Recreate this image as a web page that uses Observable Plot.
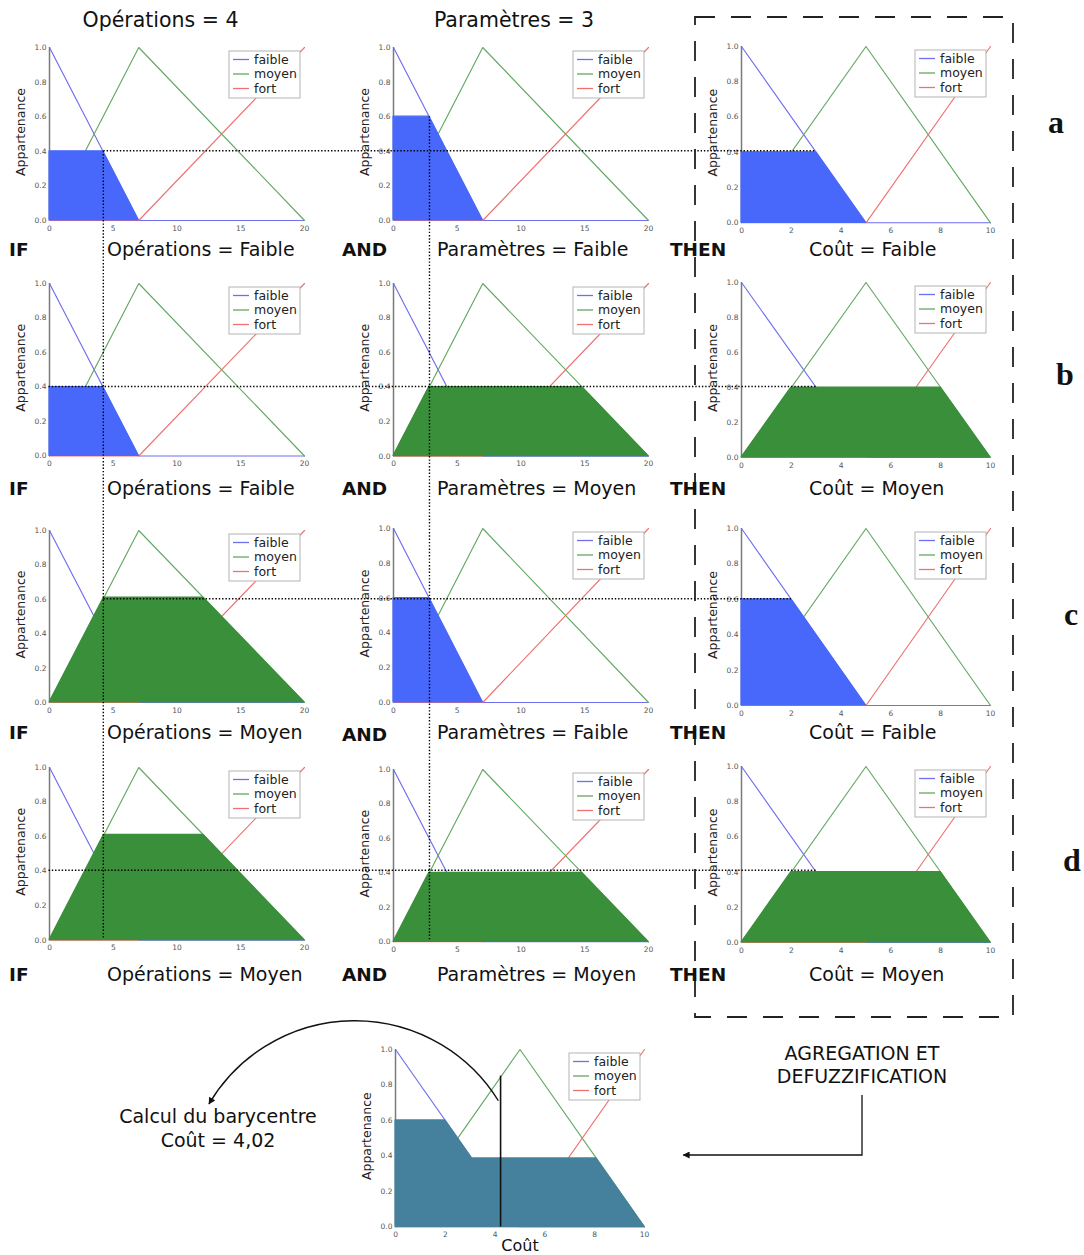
<!DOCTYPE html>
<html>
<head>
<meta charset="utf-8">
<script src="https://cdn.jsdelivr.net/npm/d3@7"></script>
<script src="https://cdn.jsdelivr.net/npm/@observablehq/plot@0.6"></script>
<style>
  html, body { margin: 0; padding: 0; background: #fff; }
  #fig { position: relative; width: 1084px; height: 1255px; overflow: hidden; font-family: "DejaVu Sans", sans-serif; }
  #fig svg { max-width: none; }
</style>
</head>
<body>
<div id="fig"></div>
<script>
// ---------------- DATA ----------------
const seriesNames = ["faible", "moyen", "fort"];
const lineColors = ["#6e6ef0", "#63a863", "#f07070"];

// Membership functions: breakpoints (x) and degrees of membership
const opsX = [0, 7, 20];          // Opérations / Paramètres universe
const coutX = [0, 5, 10];         // Coût universe
const faibleMu = [1, 0, 0];
const moyenMu = [0, 1, 0];
const fortMu = [0, 0, 1];

const opsTicks = [0, 5, 10, 15, 20];
const coutTicks = [0, 2, 4, 6, 8, 10];
const muTicks = [0, 0.2, 0.4, 0.6, 0.8, 1.0];

// Activated (clipped) sets, vertices
const opsFaible04X = [0, 4.2, 7];           const opsFaible04Y = [0.4, 0.4, 0];
const parFaible06X = [0, 2.8, 7];           const parFaible06Y = [0.6, 0.6, 0];
const parMoyen04X  = [0, 2.8, 14.8, 20];    const parMoyen04Y  = [0, 0.4, 0.4, 0];
const opsMoyen06X  = [0, 4.27, 12.07, 20];  const opsMoyen06Y  = [0, 0.61, 0.61, 0];
const coutFaible04X = [0, 3, 5];            const coutFaible04Y = [0.4, 0.4, 0];
const coutFaible06X = [0, 2, 5];            const coutFaible06Y = [0.6, 0.6, 0];
const coutMoyen04X  = [0, 2, 8, 10];        const coutMoyen04Y  = [0, 0.4, 0.4, 0];
const aggX = [0, 2, 3.07, 8.07, 10];        const aggY = [0.6, 0.6, 0.386, 0.386, 0];

// Inputs and rule activation levels
const opsInput = 4.3;
const parInput = 2.9;
const ruleLevels = [0.4, 0.4, 0.6, 0.4];
const ruleDotStart = [4.3, 0, 4.3, 0];   // on Opérations axis
const ruleDotEnd = [3, 3, 2, 3];         // on Coût axis
const barycentreX = 4.22;
const barycentreTop = 0.85;
const arrowStartY = 0.71;

const headerTexts = ["Opérations = 4", "Paramètres = 3"];
const connectors = ["IF", "AND", "THEN"];
const rowLetters = ["a", "b", "c", "d"];
const rowLabels = [
  ["Opérations = Faible", "Paramètres = Faible", "Coût = Faible"],
  ["Opérations = Faible", "Paramètres = Moyen", "Coût = Moyen"],
  ["Opérations = Moyen", "Paramètres = Faible", "Coût = Faible"],
  ["Opérations = Moyen", "Paramètres = Moyen", "Coût = Moyen"]
];
const fillBlue = "#4768fb", fillGreen = "#3a8f3a", fillAgg = "#45819d";
const rowFills = [
  [[opsFaible04X, opsFaible04Y, fillBlue], [parFaible06X, parFaible06Y, fillBlue], [coutFaible04X, coutFaible04Y, fillBlue]],
  [[opsFaible04X, opsFaible04Y, fillBlue], [parMoyen04X, parMoyen04Y, fillGreen], [coutMoyen04X, coutMoyen04Y, fillGreen]],
  [[opsMoyen06X, opsMoyen06Y, fillGreen], [parFaible06X, parFaible06Y, fillBlue], [coutFaible06X, coutFaible06Y, fillBlue]],
  [[opsMoyen06X, opsMoyen06Y, fillGreen], [parMoyen04X, parMoyen04Y, fillGreen], [coutMoyen04X, coutMoyen04Y, fillGreen]]
];

// ---------------- LAYOUT (page geometry) ----------------
const colX0 = [48.5, 392.5, 741];
const colW = [255, 255, 249];
const cellTop = [[47, 47, 45.7], [283, 282.7, 282], [530, 528, 528], [766.7, 769, 766]];
const cellBottom = [[220, 220, 222], [455.5, 455.3, 457], [702, 702, 705], [939.3, 941.3, 942]];
const bottomFrame = {x0: 395.3, w: 249, top: 1049.3, h: 177.4};
const M = {l: 40, r: 12, t: 8, b: 24};

const fig = document.getElementById("fig");

function makeCell(frame, xs, ticks, fx, fy, fillColor, extra = []) {
  const lines = [];
  [faibleMu, moyenMu, fortMu].forEach((mu, i) =>
    xs.forEach((x, j) => lines.push({serie: seriesNames[i], x, y: mu[j]})));
  const area = fx.map((x, i) => ({x, y: fy[i]}));
  const chart = Plot.plot({
    width: frame.w + M.l + M.r,
    height: frame.h + M.t + M.b,
    marginLeft: M.l, marginRight: M.r, marginTop: M.t, marginBottom: M.b,
    style: "background:transparent;overflow:visible;max-width:none;font-family:'DejaVu Sans',sans-serif;",
    x: {domain: [xs[0], xs[xs.length - 1]]},
    y: {domain: [0, 1]},
    color: {domain: seriesNames, range: lineColors},
    marks: [
      Plot.axisX({ticks, tickSize: 0, tickPadding: 5, fontSize: 7.5, color: "#555", label: null}),
      Plot.axisY({ticks: muTicks, tickSize: 0, tickPadding: 3, fontSize: 7.5, color: "#555", label: null, tickFormat: ".1f"}),
      Plot.ruleX([xs[0]], {y1: 0, y2: 1, stroke: "#7a7a7a", strokeWidth: 1.5}),
      Plot.line(lines, {x: "x", y: "y", z: "serie", stroke: "serie", strokeWidth: 1.15}),
      Plot.areaY(area, {x: "x", y: "y", fill: fillColor, stroke: fillColor, strokeWidth: 1.2}),
      Plot.text(["Appartenance"], {frameAnchor: "left", textAnchor: "middle", lineAnchor: "middle", rotate: -90, dx: -28.5, dy: -2, fontSize: 12.5, fill: "#222"}),
      ...extra
    ]
  });
  // legend box (upper right of frame)
  const sx = chart.scale("x"), sy = chart.scale("y");
  const right = sx.range[1], top = sy.range[1];
  const g = d3.select(chart).append("g").attr("font-family", "DejaVu Sans, sans-serif")
    .attr("font-size", 12.5).attr("text-anchor", "start");
  const bw = 71, bh = 47, bx = right - 4 - bw, by = top + 4;
  g.append("rect").attr("x", bx).attr("y", by).attr("width", bw).attr("height", bh)
    .attr("fill", "#fff").attr("stroke", "#b4b4b4").attr("stroke-width", 1);
  seriesNames.forEach((s, i) => {
    const cy = by + 8.5 + i * 14.5;
    g.append("line").attr("x1", bx + 4).attr("x2", bx + 20).attr("y1", cy).attr("y2", cy)
      .attr("stroke", lineColors[i]).attr("stroke-width", 1.3);
    g.append("text").attr("x", bx + 25).attr("y", cy).attr("dy", "0.35em")
      .attr("text-anchor", "start").attr("fill", "#222").text(s);
  });
  const left = frame.x0 - M.l, topPx = frame.top - M.t;
  chart.style.position = "absolute";
  chart.style.left = left + "px";
  chart.style.top = topPx + "px";
  fig.appendChild(chart);
  return {
    chart, left, top: topPx,
    px: v => left + sx.apply(v),
    py: v => topPx + sy.apply(v)
  };
}

// ---- grid of 12 charts ----
const cells = rowFills.map((fills, r) => fills.map((f, c) => {
  const frame = {x0: colX0[c], w: colW[c], top: cellTop[r][c], h: cellBottom[r][c] - cellTop[r][c]};
  const xs = c === 2 ? coutX : opsX;
  const ticks = c === 2 ? coutTicks : opsTicks;
  return makeCell(frame, xs, ticks, f[0], f[1], f[2]);
}));

// ---- bottom aggregated chart ----
const agg = makeCell(bottomFrame, coutX, coutTicks, aggX, aggY, fillAgg, [
  Plot.ruleX([barycentreX], {y1: 0, y2: barycentreTop, stroke: "#111", strokeWidth: 1.6}),
  Plot.text(["Coût"], {frameAnchor: "bottom", lineAnchor: "middle", textAnchor: "middle", dy: 19, fontSize: 16, fill: "#111"})
]);

// ---------------- OVERLAY ----------------
const ov = d3.create("svg").attr("width", 1084).attr("height", 1255)
  .style("position", "absolute").style("left", "0px").style("top", "0px")
  .attr("font-family", "DejaVu Sans, sans-serif");

const defs = ov.append("defs");
defs.append("marker").attr("id", "ah").attr("viewBox", "0 0 10 10").attr("refX", 9).attr("refY", 5)
  .attr("markerWidth", 8).attr("markerHeight", 7).attr("markerUnits", "userSpaceOnUse").attr("orient", "auto")
  .append("path").attr("d", "M0,0 L10,5 L0,10 z").attr("fill", "#111");

const dot = {stroke: "#000", "stroke-width": 1.4, "stroke-dasharray": "1.4 1.9"};
function line(x1, y1, x2, y2, st) {
  const l = ov.append("line").attr("x1", x1).attr("y1", y1).attr("x2", x2).attr("y2", y2);
  Object.entries(st).forEach(([k, v]) => l.attr(k, v));
}

// horizontal dotted lines at rule levels
ruleLevels.forEach((lv, r) => {
  const y = cells[r][0].py(lv);
  line(cells[r][0].px(ruleDotStart[r]), y, cells[r][2].px(ruleDotEnd[r]), y, dot);
});
// vertical dotted lines at the inputs
line(cells[0][0].px(opsInput), cells[0][0].py(ruleLevels[0]), cells[0][0].px(opsInput), cells[3][0].py(0), dot);
line(cells[0][1].px(parInput), cells[0][1].py(parFaible06Y[0]), cells[0][1].px(parInput), cells[3][1].py(0), dot);

// dashed box around the consequences
ov.append("rect").attr("x", 695).attr("y", 17).attr("width", 318).attr("height", 1000)
  .attr("fill", "none").attr("stroke", "#222").attr("stroke-width", 1.8).attr("stroke-dasharray", "20 16");

// headers
const hdrX = [160.5, 514];
headerTexts.forEach((t, i) => ov.append("text").attr("x", hdrX[i]).attr("y", 27).attr("text-anchor", "middle")
  .attr("font-size", 20.5).attr("fill", "#111").text(t));

// row labels
const rowBase = [256, 495, 739, 981];
const connX = [9, 342, 670];
const labX = [107, 437, 809];
rowLabels.forEach((labs, r) => {
  connectors.forEach((c, i) => ov.append("text").attr("x", connX[i]).attr("y", rowBase[r] + (r === 2 && i === 1 ? 2 : 0))
    .attr("font-size", 18.5).attr("font-weight", "bold").attr("fill", "#111").text(c));
  labs.forEach((t, i) => ov.append("text").attr("x", labX[i]).attr("y", rowBase[r])
    .attr("font-size", 19).attr("fill", "#111").text(t));
});

// row letters
const letX = [1056, 1065, 1071, 1072];
const letY = [133, 385, 625, 871];
rowLetters.forEach((t, i) => ov.append("text").attr("x", letX[i]).attr("y", letY[i]).attr("text-anchor", "middle")
  .attr("font-family", "Liberation Serif, DejaVu Serif, serif").attr("font-weight", "bold").attr("font-size", 32)
  .attr("fill", "#111").text(t));

// barycentre annotation
const sx0 = agg.px(barycentreX) - 2, sy0 = agg.py(arrowStartY);
ov.append("path").attr("d", `M${sx0},${sy0} A169,169 0 0 0 209,1104`).attr("fill", "none")
  .attr("stroke", "#111").attr("stroke-width", 1.4).attr("marker-end", "url(#ah)");
ov.append("text").attr("x", 218).attr("y", 1123).attr("text-anchor", "middle").attr("font-size", 19).attr("fill", "#111").text("Calcul du barycentre");
ov.append("text").attr("x", 218).attr("y", 1147).attr("text-anchor", "middle").attr("font-size", 19).attr("fill", "#111").text("Coût = 4,02");

// aggregation annotation
ov.append("text").attr("x", 862).attr("y", 1060).attr("text-anchor", "middle").attr("font-size", 19).attr("fill", "#111").text("AGREGATION ET");
ov.append("text").attr("x", 862).attr("y", 1083).attr("text-anchor", "middle").attr("font-size", 19).attr("fill", "#111").text("DEFUZZIFICATION");
ov.append("path").attr("d", `M862,1095 L862,1155 L${agg.px(10) + 39},1155`).attr("fill", "none")
  .attr("stroke", "#111").attr("stroke-width", 1.3).attr("marker-end", "url(#ah)");

fig.appendChild(ov.node());
</script>
</body>
</html>
